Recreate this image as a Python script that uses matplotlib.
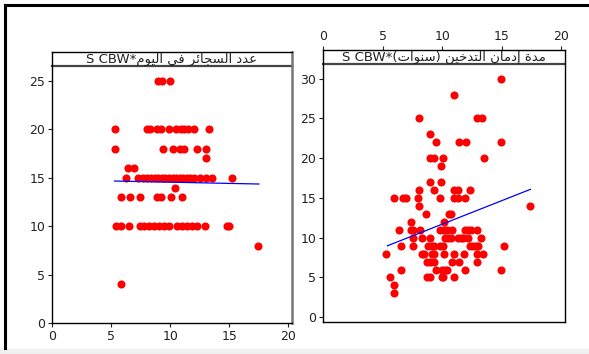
import matplotlib
matplotlib.use('Agg')
import matplotlib.pyplot as plt
from matplotlib.lines import Line2D
from matplotlib.patches import Rectangle

plt.rcParams['font.family'] = ['DejaVu Sans']

# 数据: 左图 (عدد السجائر في اليوم) 和 右图 (مدة إدمان التدخين)
left_x = [9.0, 9.3, 10.0,
          5.3, 8.0, 8.3, 8.9, 9.2, 9.9, 10.5, 10.9, 11.2, 11.5, 12.0, 13.3,
          5.3, 9.4, 10.2, 10.8, 11.2, 12.3, 13.0,
          13.0,
          6.4, 6.9,
          6.3, 7.3, 7.7, 8.0, 8.4, 8.7, 9.0, 9.3, 9.6, 9.9, 10.2, 10.5, 10.8, 11.1,
          11.4, 11.7, 12.0, 12.5, 13.0, 13.5, 15.2,
          10.4,
          5.8, 6.6, 7.45, 8.85, 9.2, 10.1, 11.0,
          5.45, 5.8, 6.5, 7.45, 7.8, 8.2, 8.6, 9.05, 9.5, 9.9, 10.6, 11.0, 11.4,
          11.8, 12.3, 12.9, 14.8, 15.0,
          17.4,
          5.8]
left_y = [25, 25, 25,
          20, 20, 20, 20, 20, 20, 20, 20, 20, 20, 20, 20,
          18, 18, 18, 18, 18, 18, 18,
          17,
          16, 16,
          15, 15, 15, 15, 15, 15, 15, 15, 15, 15, 15, 15, 15, 15,
          15, 15, 15, 15, 15, 15, 15,
          14,
          13, 13, 13, 13, 13, 13, 13,
          10, 10, 10, 10, 10, 10, 10, 10, 10, 10, 10, 10, 10,
          10, 10, 10, 10, 10,
          8,
          4]

right_x = [14.9,
           11.0,
           8.05, 12.9, 13.3,
           9.0,
           9.5, 11.4, 12.0, 14.9,
           8.95, 9.3, 10.1, 13.5,
           9.9,
           9.0, 9.9,
           8.05, 9.3, 11.0, 11.3, 12.3,
           5.95, 6.7, 7.0, 7.95, 9.85, 11.0, 11.3, 11.95,
           8.05, 17.4,
           8.6, 10.55, 10.75,
           7.4, 10.15,
           6.35, 7.4, 7.55, 8.1, 9.85, 10.15, 10.4, 10.8, 11.9, 12.2, 12.4, 12.95,
           7.55, 8.3, 9.0, 10.25, 10.45, 10.7, 11.35, 11.55, 11.75, 12.2, 13.25,
           6.55, 7.55, 8.8, 9.15, 9.35, 9.85, 10.05, 12.35, 12.6, 12.85, 13.0, 15.2,
           5.3, 8.3, 8.5, 9.15, 9.35, 10.15, 11.0, 11.8, 12.95, 13.45,
           8.7, 9.0, 9.3, 10.85, 11.45, 12.95,
           6.55, 9.45, 10.0, 10.2, 10.4, 11.95, 14.9,
           5.6, 8.7, 9.0, 9.95, 10.1, 11.0,
           5.95,
           5.95]
right_y = [30,
           28,
           25, 25, 25,
           23,
           22, 22, 22, 22,
           20, 20, 20, 20,
           19,
           17, 17,
           16, 16, 16, 16, 16,
           15, 15, 15, 15, 15, 15, 15, 15,
           14, 14,
           13, 13, 13,
           12, 12,
           11, 11, 11, 11, 11, 11, 11, 11, 11, 11, 11, 11,
           10, 10, 10, 10, 10, 10, 10, 10, 10, 10, 10,
           9, 9, 9, 9, 9, 9, 9, 9, 9, 9, 9, 9,
           8, 8, 8, 8, 8, 8, 8, 8, 8, 8,
           7, 7, 7, 7, 7, 7,
           6, 6, 6, 6, 6, 6, 6,
           5, 5, 5, 5, 5, 5,
           4,
           3]

# 拟合直线端点
left_fit_x = [5.3, 17.5]
left_fit_y = [14.67, 14.36]
right_fit_x = [5.4, 17.4]
right_fit_y = [8.98, 16.08]

left_title_ar = 'عدد السجائر في اليوم'
right_title_ar = 'مدة إدمان التدخين (سنوات)'
title_prefix = 'S CBW*'
xticks = [0, 5, 10, 15, 20]
left_yticks = [0, 5, 10, 15, 20, 25]
right_yticks = [0, 5, 10, 15, 20, 25, 30]

# 阿拉伯文字形 (isolated, final, initial, medial)
forms = {
    'ا': ('\uFE8D', '\uFE8E', None, None),
    'إ': ('\uFE87', '\uFE88', None, None),
    'ئ': ('\uFE89', '\uFE8A', '\uFE8B', '\uFE8C'),
    'ة': ('\uFE93', '\uFE94', None, None),
    'ت': ('\uFE95', '\uFE96', '\uFE97', '\uFE98'),
    'ج': ('\uFE9D', '\uFE9E', '\uFE9F', '\uFEA0'),
    'خ': ('\uFEA5', '\uFEA6', '\uFEA7', '\uFEA8'),
    'د': ('\uFEA9', '\uFEAA', None, None),
    'ر': ('\uFEAD', '\uFEAE', None, None),
    'س': ('\uFEB1', '\uFEB2', '\uFEB3', '\uFEB4'),
    'ع': ('\uFEC9', '\uFECA', '\uFECB', '\uFECC'),
    'ف': ('\uFED1', '\uFED2', '\uFED3', '\uFED4'),
    'ل': ('\uFEDD', '\uFEDE', '\uFEDF', '\uFEE0'),
    'م': ('\uFEE1', '\uFEE2', '\uFEE3', '\uFEE4'),
    'ن': ('\uFEE5', '\uFEE6', '\uFEE7', '\uFEE8'),
    'و': ('\uFEED', '\uFEEE', None, None),
    'ي': ('\uFEF1', '\uFEF2', '\uFEF3', '\uFEF4'),
}


def shape(s):
    out = []
    for i, c in enumerate(s):
        if c not in forms:
            out.append(c)
            continue
        prev = s[i - 1] if i > 0 else ''
        nxt = s[i + 1] if i + 1 < len(s) else ''
        join_prev = prev in forms and forms[prev][2] is not None
        join_next = forms[c][2] is not None and nxt in forms
        f = forms[c]
        if join_prev and join_next:
            out.append(f[3])
        elif join_next:
            out.append(f[2])
        elif join_prev:
            out.append(f[1])
        else:
            out.append(f[0])
    vis = ''.join(out)[::-1]
    vis = vis.replace('(', '\0').replace(')', '(').replace('\0', ')')
    return vis


W, H = 589, 354
fig = plt.figure(figsize=(W / 100, H / 100), dpi=100)

# 外框
fig.add_artist(Line2D([5 / W, 5 / W], [1 - 5 / H, 1 - 348 / H], color='black', lw=2.2))
fig.add_artist(Line2D([5 / W, 1], [1 - 5 / H, 1 - 5 / H], color='black', lw=2.2))
fig.add_artist(Rectangle((0, 0), 1, 5 / H, color='#f0f0f0', transform=fig.transFigure))


def panel(l, t, r, b, xs, ys, fx, fy, title, yticks, ylim, top_ticks):
    ax = fig.add_axes([l / W, 1 - b / H, (r - l) / W, (b - t) / H])
    ax.scatter(xs, ys, s=34, color='red', linewidths=0, zorder=3)
    ax.plot(fx, fy, color='blue', lw=0.9, zorder=4)
    ax.set_xlim(0, 20.3)
    ax.set_ylim(*ylim)
    ax.set_xticks(xticks)
    ax.set_yticks(yticks)
    ax.tick_params(labelsize=9, length=3, width=0.8, pad=2, colors='#222222')
    if top_ticks:
        ax.xaxis.tick_top()
    hh = 14 / (b - t)
    ax.plot([0, 1], [1 - hh, 1 - hh], transform=ax.transAxes, color='#444444', lw=1.6, clip_on=False)
    ax.text(0.5, 1 - hh / 2, title_prefix + shape(title), transform=ax.transAxes,
            ha='center', va='center', fontsize=9.5, color='#222222')
    for s in ax.spines.values():
        s.set_linewidth(1.0)
    return ax


ax1 = panel(52, 52, 292, 323, left_x, left_y, left_fit_x, left_fit_y,
            left_title_ar, left_yticks, (0, 28), False)
ax1.spines['right'].set_color('#777777')
ax1.spines['right'].set_linewidth(1.8)

ax2 = panel(323, 50, 565, 322, right_x, right_y, right_fit_x, right_fit_y,
            right_title_ar, right_yticks, (-0.6, 33.6), True)

fig.savefig('out.png', dpi=100)
